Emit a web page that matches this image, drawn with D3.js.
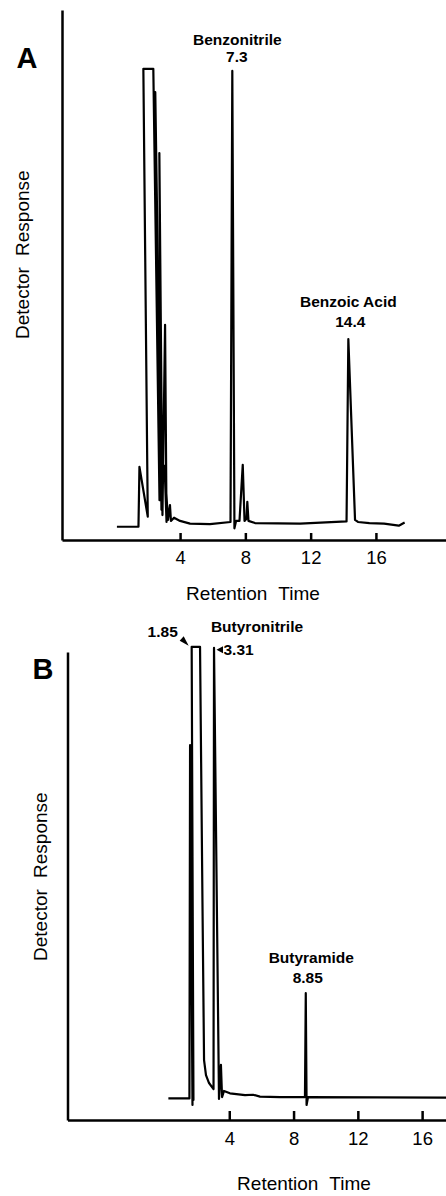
<!DOCTYPE html>
<html>
<head>
<meta charset="utf-8">
<script src="https://cdn.jsdelivr.net/npm/d3@7"></script>
<style>
body{margin:0;background:#fff}
svg{display:block}
text{font-family:"Liberation Sans",Arial,Helvetica,sans-serif;fill:#000}
.axis path,.axis line{stroke:#000;stroke-width:2.5}
.axis text{font-size:18.5px}
.trace{fill:none;stroke:#000;stroke-width:2.2;stroke-linejoin:round}
.peak{font-size:15.5px;font-weight:bold}
.title{font-size:19px;word-spacing:6px}
.letter{font-size:29px;font-weight:bold}
</style>
</head>
<body>
<svg></svg>
<script>

// panel A: benzonitrile run
var timeA=[0.13,1.45,1.51,2.02,1.75,2.36,2.74,2.48,2.86,2.73,2.92,3.08,3.17,3.05,3.26,3.38,3.44,3.63,4.0,4.61,5.83,7.09,7.2,7.33,7.43,7.64,7.84,7.95,8.07,8.12,8.19,8.59,11.35,14.2,14.31,14.72,14.9,15.6,16.5,17.4,17.76]
var responseA=[2.5,2.5,13.8,4.4,88.9,88.9,7.5,84.5,5.7,73.0,4.7,40.6,3.4,14.0,3.8,6.6,3.6,4.2,3.6,3.1,3.0,3.4,88.5,2.2,3.6,3.6,14.2,3.6,4.0,7.2,3.6,3.2,3.1,3.5,37.9,3.8,3.4,3.2,3.1,2.7,3.3]
var peakNamesA=["Benzonitrile","Benzoic Acid"]
var peakTimesA=["7.3","14.4"]

// panel B: butyronitrile run
var timeB=[0.21,1.52,1.56,1.71,1.65,1.77,1.66,2.18,2.33,2.43,2.55,2.74,3.02,3.05,3.36,3.48,3.55,3.67,4.04,4.98,5.48,5.91,7.16,8.71,8.76,8.81,8.9,17.49]
var responseB=[4.6,4.6,80.1,3.2,76.9,4.3,101.1,101.1,47.0,12.8,9.6,7.9,6.6,100.9,4.5,11.8,4.9,6.2,5.7,5.3,5.4,5.0,4.9,4.9,27.1,3.2,4.9,4.8]
var peakNamesB=["Butyronitrile","Butyramide"]
var peakTimesB=["1.85","3.31","8.85"]

var tickValues=[4,8,12,16]
var xTitle="Retention Time"
var yTitle="Detector Response"

var screen={width:446,height:1196}

var svg=d3.select("svg")
    .attr("width",screen.width)
    .attr("height",screen.height)

var lineGenerator=function(xScale,yScale)
{
    return d3.line()
    .x(function(d){return xScale(d[0])})
    .y(function(d){return yScale(d[1])})
}

// the peak top closest to a labelled time
var peakTop=function(time,response,t)
{
    var best=-1
    time.forEach(function(tt,i){
        if(Math.abs(tt-t)<0.35 && (best<0 || response[i]>response[best])) best=i
    })
    return best
}

var setup=function(p)
{
    var xScale=d3.scaleLinear()
    .domain([0,16])
    .range([p.x0,p.x0+16*p.unit])

    var xAxisScale=xScale.copy()
    .domain([xScale.invert(p.left),xScale.invert(screen.width)])
    .range([p.left,screen.width])

    var yScale=d3.scaleLinear()
    .domain([0,100])
    .range([p.bottom,p.top])

    var g=svg.append("g").attr("id",p.name)

    g.append("g")
    .classed("axis",true)
    .attr("transform","translate(0,"+p.bottom+")")
    .call(d3.axisBottom(xAxisScale).tickValues(tickValues).tickSizeInner(-p.tick).tickSizeOuter(0).tickPadding(p.pad))

    g.append("g")
    .classed("axis",true)
    .attr("transform","translate("+p.left+",0)")
    .call(d3.axisLeft(yScale).tickValues([]).tickSizeOuter(0))

    g.append("path")
    .classed("trace",true)
    .datum(d3.zip(p.time,p.response))
    .attr("d",lineGenerator(xScale,yScale))

    g.append("text")
    .classed("title",true)
    .attr("x",p.titleX)
    .attr("y",p.titleY)
    .attr("text-anchor","middle")
    .text(xTitle)

    g.append("text")
    .classed("title",true)
    .attr("transform","translate("+p.yTitleX+","+p.yTitleY+") rotate(-90)")
    .attr("text-anchor","start")
    .text(yTitle)

    g.append("text")
    .classed("letter",true)
    .attr("x",p.letterX)
    .attr("y",p.letterY)
    .attr("text-anchor","middle")
    .text(p.name)

    return {g:g,x:xScale,y:yScale}
}

var A=setup({name:"A",time:timeA,response:responseA,x0:114.8,unit:16.32,left:62,top:10,bottom:540,
    tick:7,pad:11,titleX:253,titleY:600,yTitleX:29,yTitleY:339,letterX:27,letterY:68})

var B=setup({name:"B",time:timeB,response:responseB,x0:165,unit:16.07,left:67.5,top:652,bottom:1120,
    tick:9,pad:12,titleX:304,titleY:1190,yTitleX:47,yTitleY:961,letterX:43,letterY:679})

// labels over the benzonitrile and benzoic acid peaks
var offsA=[{dx:5,name:-26,val:-9},{dx:0,name:-32,val:-12}]
peakNamesA.forEach(function(name,k){
    var i=peakTop(timeA,responseA,+peakTimesA[k])
    var px=A.x(timeA[i]),py=A.y(responseA[i])
    A.g.append("text").classed("peak",true)
    .attr("x",px+offsA[k].dx).attr("y",py+offsA[k].name)
    .attr("text-anchor","middle").text(name)
    A.g.append("text").classed("peak",true)
    .attr("x",px+offsA[k].dx/2+2).attr("y",py+offsA[k].val)
    .attr("text-anchor","middle").text(peakTimesA[k])
})

// 1.85 solvent peak, clipped top
var iSolv=peakTop(timeB,responseB,1.85)
var sx=B.x(d3.min(timeB.slice(iSolv-1,iSolv+2))),sy=B.y(responseB[iSolv])
B.g.append("text").classed("peak",true)
.attr("x",sx-29).attr("y",sy-9.5)
.attr("text-anchor","middle").text(peakTimesB[0])
B.g.append("path")
.attr("d","M"+(sx-3)+","+(sy-1)+"L"+(sx-12)+","+(sy-6)+"L"+(sx-8)+","+(sy-10.5)+"Z")
.attr("fill","#000")

// butyronitrile 3.31
var iNit=peakTop(timeB,responseB,3.2)
var nx=B.x(timeB[iNit]),ny=B.y(responseB[iNit])
B.g.append("text").classed("peak",true)
.attr("x",nx+43).attr("y",ny-16)
.attr("text-anchor","middle").text(peakNamesB[0])
B.g.append("path")
.attr("d","M"+(nx+2.5)+","+(ny+2)+"L"+(nx+9)+","+(ny-1.5)+"L"+(nx+9)+","+(ny+5.5)+"Z")
.attr("fill","#000")
B.g.append("text").classed("peak",true)
.attr("x",nx+9.5).attr("y",ny+7)
.attr("text-anchor","start").text(peakTimesB[1])

// butyramide 8.85
var iAm=peakTop(timeB,responseB,8.85)
var ax=B.x(timeB[iAm]),ay=B.y(responseB[iAm])
B.g.append("text").classed("peak",true)
.attr("x",ax+5.5).attr("y",ay-30.5)
.attr("text-anchor","middle").text(peakNamesB[1])
B.g.append("text").classed("peak",true)
.attr("x",ax+2).attr("y",ay-10.5)
.attr("text-anchor","middle").text(peakTimesB[2])

</script>
</body>
</html>
